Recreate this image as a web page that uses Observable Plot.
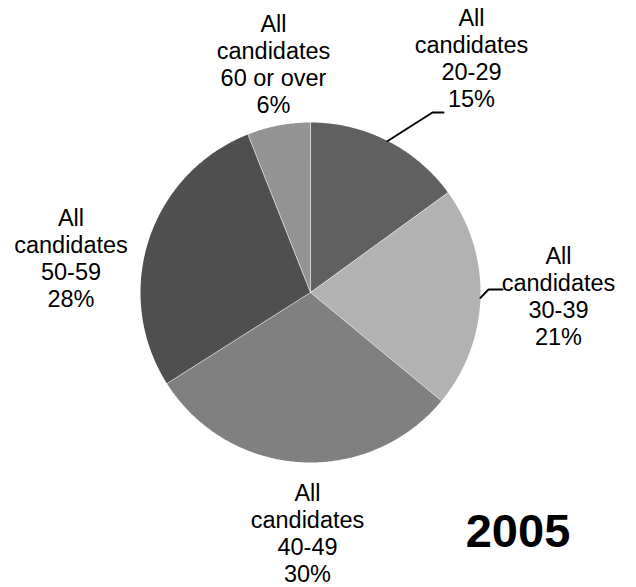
<!DOCTYPE html>
<html><head><meta charset="utf-8">
<script src="https://cdn.jsdelivr.net/npm/d3@7"></script>
<script src="https://cdn.jsdelivr.net/npm/@observablehq/plot@0.6"></script>
<style>body{margin:0;background:#fff}</style>
</head><body><div id="chart"></div>
<script>
// ---- data ----
const categories = ["20-29", "30-39", "40-49", "50-59", "60 or over"];
const shares = [15, 21, 30, 28, 6];
const labelPrefix = "All\ncandidates";
const year = "2005";

// ---- styles & layout ----
const sliceColors = ["#606060", "#b2b2b2", "#808080", "#4f4f4f", "#939393"];
const W = 636, H = 587, cx = 310, cy = 292, R = 170;
const labelAnchors = [[471, 6.5], [558, 244], [307, 481.5], [70.5, 206.5], [273, 12]];
const leaderElbows = [[[432, 112], [443, 112]], [[488, 289], [502, 289]], null, null, null];
const yearAnchor = [517.5, 513];
const font = "Liberation Sans, Arial, sans-serif";

const total = d3.sum(shares);
let acc = 0;
const slices = categories.map((c, i) => {
  const a0 = acc / total * 2 * Math.PI;
  acc += shares[i];
  const a1 = acc / total * 2 * Math.PI;
  return {category: c, share: shares[i], a0, a1, mid: (a0 + a1) / 2, i};
});
const pt = (a, r = R) => [cx + r * Math.sin(a), cy - r * Math.cos(a)];

const polyRows = slices.flatMap(s => {
  const n = Math.max(2, Math.ceil((s.a1 - s.a0) / (Math.PI / 360)));
  const rows = [{category: s.category, x: cx, y: cy}];
  for (let k = 0; k <= n; k++) {
    const [x, y] = pt(s.a0 + (s.a1 - s.a0) * k / n);
    rows.push({category: s.category, x, y});
  }
  return rows;
});

const leaderRows = slices.flatMap(s => {
  const el = leaderElbows[s.i];
  if (!el) return [];
  const [x0, y0] = pt(s.mid);
  return [{category: s.category, x: x0, y: y0}, ...el.map(([x, y]) => ({category: s.category, x, y}))];
});

const chart = Plot.plot({
  width: W, height: H, margin: 0,
  x: {type: "identity", axis: null},
  y: {type: "identity", axis: null},
  color: {domain: categories, range: sliceColors},
  style: {fontFamily: font, background: "#fff"},
  marks: [
    Plot.line(polyRows, {x: "x", y: "y", z: "category", fill: "category", stroke: "none", curve: "linear-closed"}),
    Plot.link(slices, {
      x1: () => cx, y1: () => cy,
      x2: d => pt(d.a0)[0], y2: d => pt(d.a0)[1],
      stroke: "#fff", strokeOpacity: 0.55, strokeWidth: 1
    }),
    Plot.line(leaderRows, {x: "x", y: "y", z: "category", stroke: "#000", strokeWidth: 2, curve: "linear"}),
    Plot.text(slices, {
      x: d => labelAnchors[d.i][0], y: d => labelAnchors[d.i][1],
      text: d => `${labelPrefix}\n${d.category}\n${d.share}%`,
      lineAnchor: "top", lineHeight: 1.15, fontSize: 23.5, fill: "#000",
      textAnchor: "middle", fontFamily: font
    }),
    Plot.text([year], {
      x: () => yearAnchor[0], y: () => yearAnchor[1], text: d => d,
      lineAnchor: "top", fontSize: 47, fontWeight: "bold", fill: "#000",
      textAnchor: "middle", fontFamily: font
    })
  ]
});
document.getElementById("chart").appendChild(chart);
</script>
</body></html>
